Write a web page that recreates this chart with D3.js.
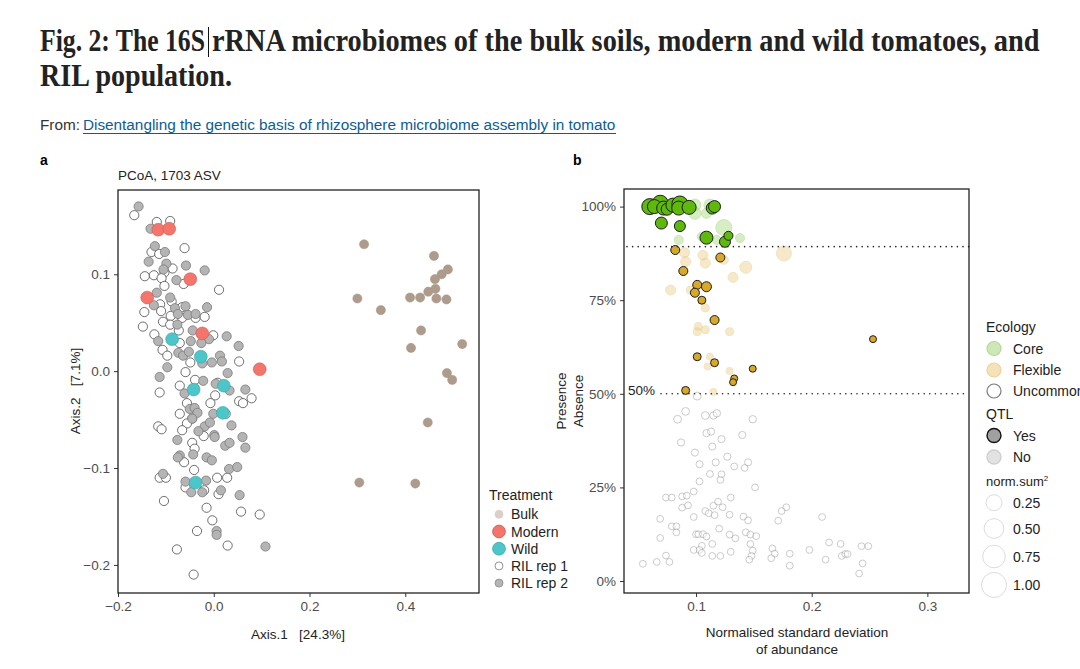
<!DOCTYPE html>
<html>
<head>
<meta charset="utf-8">
<script src="https://cdn.jsdelivr.net/npm/d3@7"></script>
<style>
  body { margin: 0; background: #fff; }
  text { font-family: "Liberation Sans", Arial, sans-serif; }
  .tick text { fill: #4d4d4d; font-size: 13.5px; }
  .tick line { stroke: #333; }
</style>
</head>
<body>
<div id="chart"></div>
<script>
// ---- panel a : PCoA coordinates [Axis.1, Axis.2]
const bulk = [[0.314,0.131],[0.460,0.119],[0.489,0.105],[0.476,0.100],[0.462,0.095],[0.448,0.082],[0.463,0.085],
  [0.300,0.075],[0.410,0.076],[0.431,0.076],[0.465,0.075],[0.486,0.074],[0.349,0.063],[0.433,0.042],[0.412,0.024],
  [0.519,0.028],[0.487,-0.002],[0.498,-0.009],[0.447,-0.053],[0.304,-0.115],[0.421,-0.116]];
const modern = [[-0.116,0.146],[-0.093,0.147],[-0.049,0.095],[-0.139,0.076],[-0.024,0.039],[0.096,0.002]];
const wild = [[-0.087,0.033],[-0.027,0.015],[0.021,-0.015],[-0.042,-0.019],[0.019,-0.043],[-0.038,-0.115]];
const rilRep1 = [[-0.166,0.161],[-0.119,0.154],[-0.091,0.155],[-0.061,0.127],[-0.130,0.123],[-0.114,0.121],[-0.086,0.106],
  [-0.103,0.102],[-0.144,0.098],[-0.125,0.099],[-0.109,0.096],[-0.063,0.090],[-0.103,0.088],[0.011,0.084],[-0.112,0.069],
  [-0.088,0.072],[-0.145,0.061],[-0.110,0.062],[-0.066,0.066],[-0.090,0.057],[-0.038,0.055],[-0.019,0.056],[-0.066,0.055],
  [-0.106,0.051],[-0.148,0.046],[-0.091,0.048],[-0.073,0.042],[-0.124,0.038],[-0.001,0.037],[-0.071,0.029],[-0.107,0.022],
  [-0.097,0.016],[-0.049,0.009],[0.053,0.010],[-0.059,-0.001],[-0.039,-0.009],[-0.071,-0.015],[0.008,-0.012],
  [-0.113,-0.022],[0.003,-0.025],[-0.007,-0.033],[-0.056,-0.033],[0.053,-0.031],[0.061,-0.033],[0.079,-0.028],
  [-0.071,-0.044],[-0.045,-0.049],[-0.056,-0.054],[-0.116,-0.057],[-0.109,-0.060],[-0.066,-0.061],[0.025,-0.044],
  [-0.021,-0.067],[-0.045,-0.074],[-0.040,-0.080],[-0.062,-0.094],[-0.041,-0.102],[-0.113,-0.110],[-0.100,-0.110],
  [0.007,-0.110],[0.028,-0.110],[-0.020,-0.123],[-0.059,-0.120],[0.010,-0.127],[-0.104,-0.134],[-0.015,-0.141],
  [0.057,-0.145],[0.096,-0.148],[-0.003,-0.154],[-0.035,-0.165],[0.029,-0.180],[-0.077,-0.184],[-0.042,-0.210]];
const rilRep2 = [[-0.157,0.170],[-0.132,0.147],[-0.123,0.129],[-0.102,0.123],[-0.136,0.113],[-0.099,0.111],[-0.058,0.109],
  [-0.019,0.104],[-0.105,0.105],[-0.078,0.094],[-0.119,0.081],[-0.125,0.068],[-0.091,0.076],[-0.014,0.066],[-0.081,0.065],
  [-0.059,0.067],[-0.054,0.058],[-0.038,0.059],[-0.075,0.059],[-0.076,0.048],[-0.044,0.042],[0.027,0.036],[-0.116,0.031],
  [-0.048,0.031],[-0.010,0.033],[-0.026,0.029],[0.052,0.026],[-0.074,0.019],[-0.064,0.016],[-0.052,0.020],[0.013,0.016],
  [0.017,0.010],[-0.004,0.009],[-0.024,0.008],[-0.097,0.004],[0.029,-0.002],[-0.113,-0.006],[-0.022,-0.010],[0.004,-0.013],
  [0.066,-0.019],[-0.061,-0.023],[0.033,-0.020],[-0.050,-0.039],[-0.040,-0.038],[-0.034,-0.043],[-0.001,-0.044],
  [-0.045,-0.049],[0.037,-0.056],[-0.019,-0.057],[-0.008,-0.053],[-0.032,-0.062],[0.001,-0.066],[0.002,-0.068],
  [0.060,-0.068],[0.066,-0.079],[-0.076,-0.071],[0.024,-0.077],[0.033,-0.074],[-0.043,-0.086],[-0.071,-0.087],
  [-0.075,-0.089],[-0.015,-0.089],[-0.004,-0.092],[0.032,-0.101],[0.049,-0.099],[-0.106,-0.106],[-0.059,-0.114],
  [-0.016,-0.113],[-0.047,-0.125],[-0.024,-0.125],[0.015,-0.123],[0.054,-0.128],[0.006,-0.165],[0.006,-0.169],[0.108,-0.181]];
const xTicksA = [-0.2, 0, 0.2, 0.4];
const yTicksA = [-0.2, -0.1, 0, 0.1];

// ---- panel b : [normalised sd, presence %, norm.sum^2]
const coreQtl = [[0.060,100.0,0.309],[0.069,100.9,0.309],[0.064,100.0,0.198],[0.072,99.6,0.198],[0.075,99.3,0.111],
  [0.080,100.4,0.198],[0.086,100.7,0.309],[0.085,99.6,0.198],[0.094,99.8,0.198],[0.114,99.6,0.111],[0.116,100.0,0.111],
  [0.070,95.6,0.111],[0.086,94.8,0.077],[0.109,91.7,0.151],[0.125,90.6,0.077],[0.128,92.2,0.028]];
const coreNo = [[0.099,100.4,0.111],[0.112,100.4,0.111],[0.099,98.2,0.111],[0.109,98.2,0.049],[0.124,94.4,0.309],
  [0.138,91.6,0.028],[0.085,91.1,0.028],[0.105,92.0,0.028],[0.118,91.1,0.028]];
const flexQtl = [[0.082,88.4,0.028],[0.121,86.4,0.028],[0.089,82.8,0.028],[0.101,79.1,0.028],[0.109,78.6,0.049],
  [0.099,77.0,0.028],[0.105,75.0,0.012],[0.116,69.7,0.028],[0.101,59.9,0.012],[0.116,58.3,0.012],[0.149,56.7,0.003],
  [0.133,54.1,0.003],[0.132,53.1,0.003],[0.091,50.9,0.012],[0.253,64.6,0.003]];
const flexNo = [[0.090,87.7,0.049],[0.091,85.3,0.049],[0.106,87.0,0.049],[0.108,84.9,0.049],[0.124,85.8,0.028],
  [0.143,83.8,0.111],[0.132,81.1,0.049],[0.078,77.7,0.049],[0.095,77.7,0.012],[0.108,72.9,0.012],[0.102,68.0,0.012],
  [0.101,66.6,0.012],[0.108,67.1,0.012],[0.129,66.6,0.012],[0.112,59.9,0.003],[0.110,57.3,0.003],[0.129,56.1,0.003],
  [0.115,50.5,0.003],[0.176,87.5,0.25]];
const uncommon = [[0.101,49.4,0.012],[0.091,45.3,0.01],[0.084,43.2,0.01],[0.108,44.2,0.01],[0.115,44.2,0.006],
  [0.118,44.8,0.006],[0.149,43.2,0.006],[0.109,39.5,0.004],[0.113,39.9,0.004],[0.140,39.0,0.004],[0.122,37.9,0.004],
  [0.087,37.0,0.004],[0.114,35.9,0.004],[0.099,34.3,0.004],[0.127,33.2,0.004],[0.103,31.2,0.004],[0.117,31.7,0.004],
  [0.145,31.7,0.004],[0.133,30.6,0.002],[0.142,30.2,0.002],[0.112,28.6,0.002],[0.122,28.5,0.002],[0.121,27.0,0.002],
  [0.103,26.6,0.002],[0.151,25.0,0.002],[0.098,23.9,0.002],[0.074,22.3,0.002],[0.079,22.3,0.002],[0.088,22.6,0.002],
  [0.092,22.8,0.002],[0.130,22.3,0.002],[0.119,21.2,0.002],[0.115,20.1,0.002],[0.088,19.6,0.002],[0.093,20.2,0.002],
  [0.123,19.7,0.002],[0.178,19.7,0.002],[0.174,18.7,0.002],[0.108,18.7,0.002],[0.111,18.1,0.002],[0.116,17.6,0.002],
  [0.129,17.7,0.002],[0.098,17.1,0.002],[0.141,17.2,0.002],[0.145,16.2,0.002],[0.171,16.1,0.002],[0.069,16.6,0.002],
  [0.120,14.0,0.002],[0.079,14.6,0.002],[0.083,14.6,0.002],[0.083,13.0,0.002],[0.069,11.5,0.002],[0.100,12.5,0.002],
  [0.102,12.5,0.002],[0.106,12.5,0.002],[0.109,11.9,0.002],[0.129,12.4,0.002],[0.134,11.4,0.002],[0.143,13.0,0.002],
  [0.147,12.4,0.002],[0.152,12.0,0.002],[0.147,9.9,0.002],[0.114,9.9,0.002],[0.105,9.4,0.002],[0.098,8.3,0.002],
  [0.103,8.3,0.002],[0.105,7.5,0.002],[0.130,7.8,0.002],[0.149,8.1,0.002],[0.166,8.7,0.002],[0.168,7.3,0.002],
  [0.181,7.3,0.002],[0.074,6.8,0.002],[0.114,6.7,0.002],[0.121,6.7,0.002],[0.148,6.7,0.002],[0.146,5.7,0.002],
  [0.165,6.1,0.002],[0.066,5.1,0.002],[0.077,5.1,0.002],[0.054,4.6,0.002],[0.181,4.1,0.002],[0.209,17.1,0.002],
  [0.215,10.3,0.002],[0.225,9.9,0.002],[0.243,9.3,0.002],[0.249,9.3,0.002],[0.198,8.3,0.002],[0.212,5.7,0.002],
  [0.226,6.7,0.002],[0.229,7.2,0.002],[0.231,7.2,0.002],[0.244,4.7,0.002],[0.241,2.0,0.002]];
const xTicksB = [0.1, 0.2, 0.3];
const yTicksB = [0, 25, 50, 75, 100];
const thresholds = [89.3, 50];
const sizeLegend = [0.25, 0.50, 0.75, 1.00];

const width = 1080, height = 669;
const svg = d3.select("#chart").append("svg")
    .attr("width", width)
    .attr("height", height);

// ---- header : condensed look by squeezing each line horizontally to its width
function squeezed(x, y, w, size, str, weight, fill, family) {
    let t = svg.append("text").attr("x", 0).attr("y", 0).attr("font-size", size)
        .attr("font-weight", weight).attr("fill", fill).style("font-family", family).text(str);
    let natural = t.node().getComputedTextLength();
    t.attr("transform", `translate(${x},${y}) scale(${w / natural},1)`);
    return t;
}
const serif = "'Liberation Serif', serif";
squeezed(40, 51, 165, 31, "Fig. 2: The 16S", "bold", "#222", serif);
squeezed(212, 51, 828, 31, "rRNA microbiomes of the bulk soils, modern and wild tomatoes, and", "bold", "#222", serif);
squeezed(40, 86, 192, 31, "RIL population.", "bold", "#222", serif);
svg.append("line").attr("x1", 208.5).attr("x2", 208.5).attr("y1", 27).attr("y2", 57).attr("stroke", "#111").attr("stroke-width", 1);

squeezed(40, 130, 40, 15, "From:", "normal", "#333", "'Liberation Sans', sans-serif");
squeezed(83, 130, 533, 15, "Disentangling the genetic basis of rhizosphere microbiome assembly in tomato",
    "normal", "#0a5c99", "'Liberation Sans', sans-serif");
svg.append("line").attr("x1", 83).attr("x2", 616).attr("y1", 133.5).attr("y2", 133.5).attr("stroke", "#0a5c99");

svg.append("text").attr("x", 40).attr("y", 165).attr("font-size", 14).attr("font-weight", "bold").text("a");
svg.append("text").attr("x", 573).attr("y", 165).attr("font-size", 14).attr("font-weight", "bold").text("b");

// ================= panel a
const xA = d3.scaleLinear().domain([-0.2, 0.554]).range([118, 479]);
const yA = d3.scaleLinear().domain([-0.229, 0.187]).range([593, 190]);

svg.append("text").attr("x", 118).attr("y", 180).attr("font-size", 13.5).attr("fill", "#222").text("PCoA, 1703 ASV");

svg.append("g").attr("transform", "translate(0,593)")
    .call(d3.axisBottom(xA).tickValues(xTicksA).tickSize(4).tickPadding(4).tickFormat(d3.format(".1f")))
    .call(g => g.select(".domain").remove());
svg.append("g").attr("transform", "translate(118,0)")
    .call(d3.axisLeft(yA).tickValues(yTicksA).tickSize(4).tickPadding(4).tickFormat(d3.format(".1f")))
    .call(g => g.select(".domain").remove());

let pa = svg.append("g");
function dotsA(data, r, fill, stroke, sw) {
    pa.append("g").selectAll("circle").data(data).enter().append("circle")
        .attr("cx", d => xA(d[0])).attr("cy", d => yA(d[1])).attr("r", r)
        .attr("fill", fill).attr("stroke", stroke).attr("stroke-width", sw);
}
dotsA(rilRep1, 4.6, "#fff", "#4a4a4a", 0.8);
dotsA(rilRep2, 4.6, "#b4b4b4", "#7a7a7a", 0.8);
dotsA(bulk, 4.6, "#ad9b8c", "#a89584", 0.5);
dotsA(modern, 6.4, "#f4756c", "#c95a52", 0.6);
dotsA(wild, 6.4, "#4cc6c8", "#3aa4a6", 0.6);

svg.append("rect").attr("x", 118).attr("y", 190).attr("width", 361).attr("height", 403)
    .attr("fill", "none").attr("stroke", "#222").attr("stroke-width", 1.3);

svg.append("text").attr("x", 298).attr("y", 639).attr("text-anchor", "middle").attr("font-size", 13.5)
    .attr("fill", "#222").attr("xml:space", "preserve").text("Axis.1   [24.3%]");
svg.append("text").attr("transform", "translate(80,391)rotate(-90)").attr("text-anchor", "middle")
    .attr("font-size", 13.5).attr("fill", "#222").attr("xml:space", "preserve").text("Axis.2   [7.1%]");

// legend a
const legA = svg.append("g").attr("transform", "translate(489,0)");
legA.append("text").attr("x", 0).attr("y", 500).attr("font-size", 14).attr("fill", "#222").text("Treatment");
const legAItems = [
    {label: "Bulk", r: 4, fill: "#d9d0c8", stroke: "#d9d0c8"},
    {label: "Modern", r: 6.4, fill: "#f4756c", stroke: "#c95a52"},
    {label: "Wild", r: 6.4, fill: "#4cc6c8", stroke: "#3aa4a6"},
    {label: "RIL rep 1", r: 4, fill: "#fff", stroke: "#777"},
    {label: "RIL rep 2", r: 4, fill: "#b4b4b4", stroke: "#8a8a8a"}];
legAItems.forEach((d, i) => {
    let yy = 514.3 + i * 17.2;
    legA.append("circle").attr("cx", 10).attr("cy", yy).attr("r", d.r)
        .attr("fill", d.fill).attr("stroke", d.stroke).attr("stroke-width", 0.8);
    legA.append("text").attr("x", 22).attr("y", yy + 5).attr("font-size", 14).attr("fill", "#222").text(d.label);
});

// ================= panel b
const xB = d3.scaleLinear().domain([0.0377, 0.336]).range([624, 969]);
const yB = d3.scaleLinear().domain([-3.2, 104.7]).range([593, 189]);
const rB = d3.scaleSqrt().domain([0, 1]).range([3, 12]);

svg.append("g").attr("transform", "translate(0,593)")
    .call(d3.axisBottom(xB).tickValues(xTicksB).tickSize(4).tickPadding(4).tickFormat(d3.format(".1f")))
    .call(g => g.select(".domain").remove());
svg.append("g").attr("transform", "translate(624,0)")
    .call(d3.axisLeft(yB).tickValues(yTicksB).tickSize(4).tickPadding(4).tickFormat(d => d + "%"))
    .call(g => g.select(".domain").remove());

let pb = svg.append("g");
function dotsB(data, fill, stroke, sw, op) {
    pb.append("g").selectAll("circle").data(data).enter().append("circle")
        .attr("cx", d => xB(d[0])).attr("cy", d => yB(d[1])).attr("r", d => rB(d[2]))
        .attr("fill", fill).attr("stroke", stroke).attr("stroke-width", sw).attr("opacity", op);
}
dotsB(uncommon, "#fff", "#8c8c8c", 1, 0.45);
dotsB(coreNo, "#a8d87c", "#8fc861", 1, 0.45);
dotsB(flexNo, "#ecd08a", "#e2c272", 1, 0.45);
dotsB(flexQtl, "#d7a829", "#1e1e1e", 1, 1);
dotsB(coreQtl, "#5fb80c", "#1e1e1e", 1, 1);

// thresholds
svg.append("line").attr("x1", 627).attr("x2", 969).attr("y1", yB(thresholds[0])).attr("y2", yB(thresholds[0]))
    .attr("stroke", "#222").attr("stroke-width", 1.6).attr("stroke-dasharray", "0,5.6").attr("stroke-linecap", "round");
svg.append("line").attr("x1", 661).attr("x2", 969).attr("y1", yB(thresholds[1])).attr("y2", yB(thresholds[1]))
    .attr("stroke", "#222").attr("stroke-width", 1.6).attr("stroke-dasharray", "0,5.6").attr("stroke-linecap", "round");
svg.append("text").attr("x", 628).attr("y", yB(thresholds[1]) + 1).attr("font-size", 13.5).attr("fill", "#222").text("50%");

svg.append("rect").attr("x", 624).attr("y", 189).attr("width", 345).attr("height", 404)
    .attr("fill", "none").attr("stroke", "#222").attr("stroke-width", 1.3);

svg.append("text").attr("x", 797).attr("y", 637).attr("text-anchor", "middle").attr("font-size", 13.5)
    .attr("fill", "#222").text("Normalised standard deviation");
svg.append("text").attr("x", 797).attr("y", 654).attr("text-anchor", "middle").attr("font-size", 13.5)
    .attr("fill", "#222").text("of abundance");
svg.append("text").attr("transform", "translate(566,401)rotate(-90)").attr("text-anchor", "middle")
    .attr("font-size", 13.5).attr("fill", "#222").text("Presence");
svg.append("text").attr("transform", "translate(583,401)rotate(-90)").attr("text-anchor", "middle")
    .attr("font-size", 13.5).attr("fill", "#222").text("Absence");

// legend b
const legB = svg.append("g");
legB.append("text").attr("x", 986).attr("y", 332).attr("font-size", 14).attr("fill", "#222").text("Ecology");
const ecoItems = [
    {label: "Core", fill: "#cde8b6", stroke: "#b3d995", y: 348.5},
    {label: "Flexible", fill: "#f4e3b9", stroke: "#ead39a", y: 370},
    {label: "Uncommon", fill: "#fff", stroke: "#7a7a7a", y: 391}];
ecoItems.forEach(d => {
    legB.append("circle").attr("cx", 994).attr("cy", d.y).attr("r", 7).attr("fill", d.fill)
        .attr("stroke", d.stroke).attr("stroke-width", 1.2);
    legB.append("text").attr("x", 1013).attr("y", d.y + 5).attr("font-size", 14).attr("fill", "#222").text(d.label);
});
legB.append("text").attr("x", 986).attr("y", 419).attr("font-size", 14).attr("fill", "#222").text("QTL");
const qtlItems = [
    {label: "Yes", fill: "#a0a0a0", stroke: "#111", y: 435.5},
    {label: "No", fill: "#e2e2e2", stroke: "#cfcfcf", y: 457}];
qtlItems.forEach(d => {
    legB.append("circle").attr("cx", 994).attr("cy", d.y).attr("r", 7).attr("fill", d.fill)
        .attr("stroke", d.stroke).attr("stroke-width", 1.4);
    legB.append("text").attr("x", 1013).attr("y", d.y + 5).attr("font-size", 14).attr("fill", "#222").text(d.label);
});
let ns = legB.append("text").attr("x", 986).attr("y", 486).attr("font-size", 13).attr("fill", "#222");
ns.append("tspan").text("norm.sum");
ns.append("tspan").attr("font-size", 8).attr("dy", -5).text("2");
const sizeY = [502.7, 528.5, 556.5, 585];
sizeLegend.forEach((v, i) => {
    legB.append("circle").attr("cx", 994).attr("cy", sizeY[i]).attr("r", rB(v) + 0.5)
        .attr("fill", "#fff").attr("stroke", "#dcdcdc").attr("stroke-width", 1);
    legB.append("text").attr("x", 1013).attr("y", sizeY[i] + 5).attr("font-size", 14).attr("fill", "#222")
        .text(d3.format(".2f")(v));
});
</script>
</body>
</html>
